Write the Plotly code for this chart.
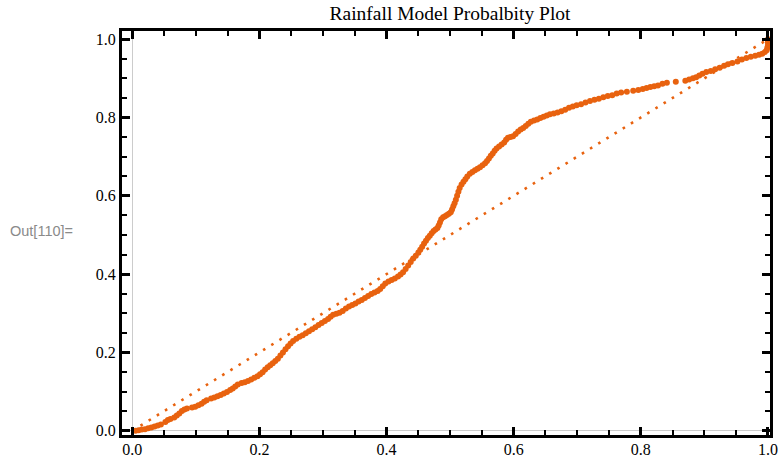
import plotly.graph_objects as go

# Empirical CDF of the rainfall sample (x) against the fitted model CDF (y)
ecdf_x = [
    0.005, 0.010, 0.015, 0.020, 0.025, 0.030, 0.035, 0.040, 0.045,
    0.052, 0.056, 0.060,
    0.066, 0.070, 0.074, 0.078, 0.082, 0.086,
    0.094, 0.099, 0.104, 0.109, 0.113, 0.117,
    0.124, 0.129, 0.134, 0.139, 0.144, 0.149, 0.154, 0.158, 0.162, 0.166,
    0.172, 0.177, 0.182, 0.187, 0.192, 0.197, 0.201, 0.205, 0.209, 0.213,
    0.217, 0.221, 0.225, 0.229, 0.233, 0.237, 0.241, 0.245, 0.249, 0.253,
    0.258, 0.263, 0.268, 0.273, 0.278, 0.283, 0.288, 0.293, 0.298, 0.303,
    0.308, 0.312, 0.316, 0.321, 0.326, 0.331, 0.336, 0.341, 0.346, 0.351,
    0.356, 0.361, 0.366, 0.371, 0.376, 0.381, 0.386, 0.390, 0.394, 0.398,
    0.403, 0.408, 0.413, 0.418, 0.422, 0.426, 0.430, 0.434, 0.438, 0.442,
    0.446, 0.450, 0.453, 0.456, 0.459, 0.462, 0.465, 0.468, 0.471, 0.474,
    0.477, 0.480, 0.482, 0.484, 0.486, 0.489, 0.492, 0.495, 0.498, 0.501,
    0.503, 0.505, 0.507, 0.509, 0.511, 0.513, 0.515, 0.518, 0.521, 0.524,
    0.527, 0.531, 0.535, 0.539, 0.543, 0.547, 0.551, 0.555, 0.558, 0.561,
    0.564, 0.567, 0.570, 0.573, 0.577, 0.581, 0.585, 0.588, 0.591, 0.595,
    0.599, 0.603, 0.607, 0.611, 0.615, 0.619, 0.623, 0.627, 0.632, 0.637,
    0.642, 0.647, 0.652, 0.657,
    0.663, 0.669, 0.675, 0.681, 0.687, 0.693, 0.699, 0.706, 0.713, 0.720,
    0.727, 0.734, 0.741, 0.748, 0.755, 0.762, 0.769, 0.778, 0.788, 0.796,
    0.803, 0.809, 0.815, 0.821, 0.827, 0.834, 0.841, 0.855, 0.870, 0.876,
    0.882, 0.887, 0.892, 0.897, 0.903, 0.910, 0.917, 0.924, 0.931, 0.937,
    0.944, 0.952, 0.959, 0.966, 0.973, 0.980, 0.986, 0.991, 0.995, 0.998,
    0.999, 1.000, 1.000, 1.000, 1.000,
]
model_y = [
    0.000, 0.001, 0.003, 0.004, 0.006, 0.008, 0.011, 0.013, 0.016,
    0.022, 0.027, 0.030,
    0.034, 0.039, 0.044, 0.050, 0.054, 0.057,
    0.059, 0.061, 0.065, 0.069, 0.074, 0.078,
    0.082, 0.085, 0.088, 0.091, 0.095, 0.099, 0.104, 0.108, 0.113, 0.118,
    0.122, 0.124, 0.127, 0.131, 0.135, 0.139, 0.144, 0.149, 0.156, 0.162,
    0.167, 0.172, 0.178, 0.184, 0.192, 0.200, 0.208, 0.216, 0.223, 0.229,
    0.235, 0.240, 0.244, 0.249, 0.254, 0.259, 0.264, 0.270, 0.275, 0.280,
    0.285, 0.291, 0.296, 0.299, 0.301, 0.306, 0.312, 0.317, 0.321, 0.325,
    0.330, 0.334, 0.339, 0.344, 0.349, 0.353, 0.357, 0.362, 0.369, 0.376,
    0.381, 0.385, 0.389, 0.394, 0.399, 0.405, 0.413, 0.422, 0.431, 0.440,
    0.447, 0.455, 0.462, 0.470, 0.478, 0.485, 0.492, 0.498, 0.504, 0.510,
    0.514, 0.518, 0.524, 0.532, 0.540, 0.545, 0.548, 0.551, 0.554, 0.558,
    0.565, 0.573, 0.581, 0.590, 0.600, 0.610, 0.620, 0.629, 0.636, 0.642,
    0.649, 0.656, 0.661, 0.665, 0.669, 0.673, 0.678, 0.683, 0.689, 0.695,
    0.702, 0.708, 0.715, 0.721, 0.726, 0.731, 0.736, 0.743, 0.748, 0.750,
    0.752, 0.758, 0.764, 0.769, 0.773, 0.778, 0.784, 0.789, 0.792, 0.795,
    0.799, 0.802, 0.805, 0.808,
    0.810, 0.813, 0.816, 0.820, 0.825, 0.828, 0.831, 0.834, 0.838, 0.842,
    0.845, 0.848, 0.852, 0.855, 0.857, 0.861, 0.864, 0.866, 0.868, 0.870,
    0.873, 0.875, 0.878, 0.880, 0.882, 0.886, 0.889, 0.891, 0.894, 0.897,
    0.900, 0.903, 0.907, 0.912, 0.916, 0.919, 0.923, 0.927, 0.932, 0.936,
    0.939, 0.943, 0.948, 0.952, 0.955, 0.958, 0.960, 0.963, 0.967, 0.972,
    0.978, 0.984, 0.990, 0.996, 1.000,
]

# Reference line for a perfect fit
ref_x = [0.0, 1.0]
ref_y = [0.0, 1.0]

tick_vals = [0.0, 0.2, 0.4, 0.6, 0.8, 1.0]
tick_text = ["0.0", "0.2", "0.4", "0.6", "0.8", "1.0"]

ORANGE = "#E8620F"
SERIF = "Liberation Serif, Times New Roman, serif"

fig = go.Figure()
fig.add_trace(go.Scatter(
    x=ref_x, y=ref_y, mode="lines",
    line=dict(color=ORANGE, width=2.6, dash="2.6px,7px"),
    hoverinfo="skip", showlegend=False,
))
fig.add_trace(go.Scatter(
    x=ecdf_x, y=model_y, mode="markers",
    marker=dict(color=ORANGE, size=6, line=dict(width=0)),
    showlegend=False,
))

axis_common = dict(
    automargin=False,
    showgrid=False,
    showline=True, linecolor="black", linewidth=3.3, mirror="allticks",
    ticks="inside", ticklen=8, tickwidth=3, tickcolor="black",
    zeroline=True, zerolinecolor="#cccccc", zerolinewidth=1,
    tickvals=tick_vals, ticktext=tick_text,
    tickfont=dict(family=SERIF, size=16, color="black"),
    minor=dict(dtick=0.05, tick0=0, ticks="inside", ticklen=5,
               tickwidth=2.4, tickcolor="black", showgrid=False),
)

fig.update_xaxes(range=[-0.0162, 1.0032], ticklabelstandoff=-2, **axis_common)
fig.update_yaxes(range=[-0.011, 1.0209], **axis_common)

fig.update_layout(
    width=781, height=461, autosize=False,
    margin=dict(l=122, r=11, t=31, b=26, autoexpand=False),
    paper_bgcolor="white", plot_bgcolor="white",
    title=dict(text="Rainfall Model Probalbity Plot",
               font=dict(family=SERIF, size=19.5, color="black"),
               x=(450 - 122) / 648, xref="paper",
               y=1 - 13 / 461, yref="container",
               xanchor="center", yanchor="middle", automargin=False),
)
fig.add_annotation(
    text="Out[110]=", xref="paper", yref="paper",
    x=(8 - 122) / 648, y=(435 - 231) / 404,
    xanchor="left", yanchor="middle", showarrow=False,
    font=dict(family="Liberation Sans, Arial, sans-serif", size=14.5,
              color="#8a8a8a"),
)

fig.write_html("out.html")
